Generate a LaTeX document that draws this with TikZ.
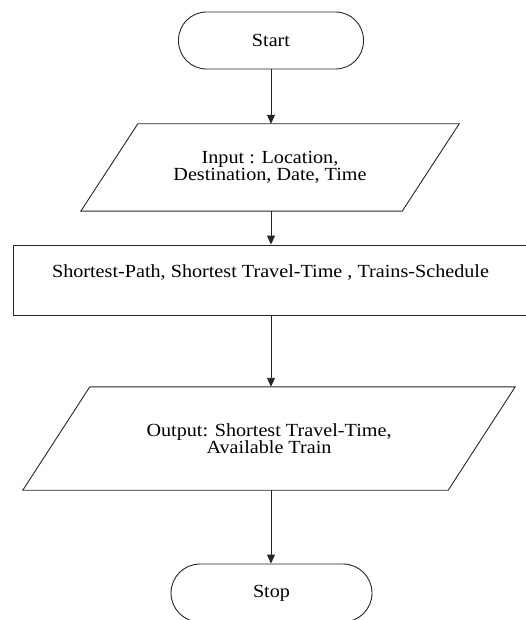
\documentclass[tikz,border=0pt]{standalone}
\usepackage{fontspec}
\setmainfont{Liberation Serif}[FakeStretch=1.09]
\usetikzlibrary{arrows.meta}
\tikzset{
  base/.style={line width=0.9pt, draw=black!85},
  term/.style={base, draw, minimum width=#1, minimum height=57pt, rounded corners=28pt, inner sep=0pt},
  iobox/.style={inner sep=0pt, align=center},
  procbox/.style={base, draw, inner sep=0pt},
  flow/.style={line width=0.9pt, draw=black!85, -{Triangle[length=9pt,width=8pt]}},
  txt/.style={font=\fontsize{18.5}{17.5}\selectfont}
}
\begin{document}
\begin{tikzpicture}[x=1pt,y=-1pt, every node/.style={txt}]
\useasboundingbox (0,0) rectangle (526,620);
% Start
\node[term=185pt] (start) at (271,40.5) {Start};
% Input
\node[iobox, minimum width=378pt, minimum height=87pt] (in) at (270,167.5) {Input : Location,\\Destination, Date, Time};
\draw[base] (in.south west) -- ([xshift=57pt]in.north west) -- (in.north east) -- ([xshift=-57pt]in.south east) -- cycle;
% Process
\node[procbox, minimum width=515pt, minimum height=70pt] (proc) at (270.5,280) {};
\node (proctxt) at ([yshift=7pt]proc.center) {Shortest-Path, Shortest Travel-Time , Trains-Schedule};
% Output
\node[iobox, minimum width=492pt, minimum height=103pt] (out) at (269,438.5) {Output: Shortest Travel-Time,\\Available Train};
\draw[base] (out.south west) -- ([xshift=67pt]out.north west) -- (out.north east) -- ([xshift=-67pt]out.south east) -- cycle;
% Stop
\node[term=201pt, minimum height=58pt, rounded corners=29pt] (stop) at (271.5,593) {Stop};
% connectors
\draw[flow] (start.south) -- (start.south |- in.north);
\draw[flow] (start.south |- in.south) -- (start.south |- proc.north);
\draw[flow] (start.south |- proc.south) -- (start.south |- out.north);
\draw[flow] (start.south |- out.south) -- (stop.north -| start.south);
\end{tikzpicture}
\end{document}
